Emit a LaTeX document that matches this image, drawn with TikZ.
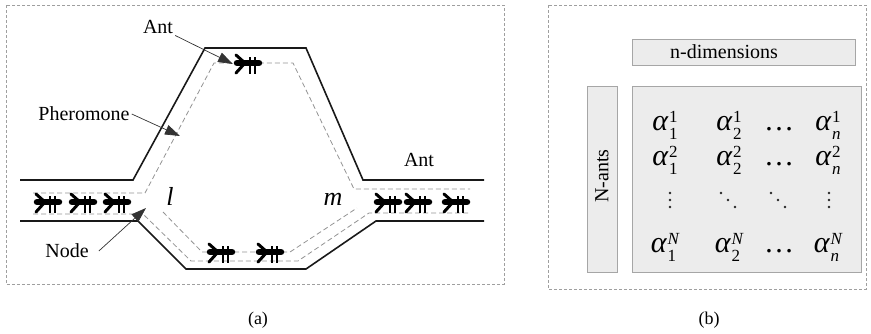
\documentclass[tikz,border=0pt]{standalone}
\usepackage{fontspec}
\setmainfont{Liberation Serif}
\usetikzlibrary{arrows.meta}
% size of the indices in the ant matrix
\newcommand\entscr{\fontsize{17}{19}\selectfont\upshape}
% entry of the ant matrix: alpha with subscript #1 and superscript #2
\newcommand\alphent[2]{α\kern1pt\raisebox{-9pt}{\rlap{\entscr #1}}\raisebox{8pt}{\entscr #2}}
\begin{document}
\begin{tikzpicture}[x=1pt,y=-1pt,
  frame/.style={draw=gray!75, dash pattern=on 3pt off 2pt, line width=0.8pt},
  wall/.style={draw=black!90, line width=1.6pt, line join=miter},
  trail/.style={draw=gray!85, dash pattern=on 5pt off 3pt, line width=0.8pt},
  lbl/.style={font=\fontsize{20}{24}\selectfont, inner sep=2pt},
  leader/.style={draw=black!80, line width=0.7pt, -{Triangle[length=15pt,width=10pt]}},
  greybox/.style={draw=gray!70, fill=gray!15, line width=1pt, inner sep=0pt},
  entry/.style={inner sep=0pt, font=\fontsize{30}{34}\selectfont\itshape, anchor=base},
  dotmark/.style={fill=black!85},
  ant/.pic={
    \draw[line width=6.5pt, line cap=round] (-11,0) -- (11,0);
    \draw[line width=3pt, line cap=round, line join=round] (-12,-8) -- (-3,0) -- (-12,10);
    \draw[line width=2.8pt] (2,-6) -- (2,11) (7,-6) -- (7,11);
  },
]
\useasboundingbox (0,0) rectangle (871,333);

% ---------- (a) the two routes between nodes l and m ----------
\draw[frame] (6,5) rectangle (504,284);

% channel walls
\draw[wall] (20,180) -- (133,180) -- (205,48) -- (306,48) -- (363,180) -- (484,180);
\draw[wall] (20,221) -- (138,221) -- (186,269) -- (306,269) -- (376,221) -- (484,221);

% pheromone trails
\draw[trail] (33,193) -- (145,193) -- (214,63) -- (293,63) -- (354,189) -- (470,189);
\draw[trail] (33,214) -- (143,214) -- (191,261) -- (298,261) -- (369,213) -- (470,213);
\draw[trail] (163,212) -- (202,252) -- (290,252) -- (357,208);

% ants
\foreach \p in {(48,202),(83,202),(117,202),(248,63),(221,252),(270,252),(388,202),(418,202),(456,202)}
  \pic at \p {ant};

% labels
\node[lbl] (antTop) at (158,27) {Ant};
\node[lbl] (antRight) at (419,160) {Ant};
\node[lbl] (pher) at (84,114) {Pheromone};
\node[lbl] (nodeL) at (67,251) {Node};
\node[font=\fontsize{26}{30}\selectfont\itshape, inner sep=0pt, anchor=base] (lnode) at (170,205) {l};
\node[font=\fontsize{26}{30}\selectfont\itshape, inner sep=0pt, anchor=base] (mnode) at (333,205) {m};

\coordinate (antTip) at (233,64);
\coordinate (pherTip) at (180,136);
\coordinate (nodeTip) at (146,208);
\draw[leader] (antTop) -- (antTip);
\draw[leader] (pher.east) -- (pherTip);
\draw[leader] ([xshift=8pt]nodeL.east) -- (nodeTip);

\node[font=\fontsize{18}{22}\selectfont] (capA) at (258,320) {(a)};

% ---------- (b) the solution matrix ----------
\draw[frame] (548,5) rectangle (866,289);

\node[greybox, minimum width=223pt, minimum height=26pt] (ndimBox) at (743.5,52) {};
\node[lbl] (ndim) at (724,52) {n-dimensions};
\node[greybox, minimum width=30pt, minimum height=186pt] (nantsBox) at (602,179) {};
\node[lbl, rotate=90] (nants) at (602,176) {N-ants};
\node[greybox, minimum width=229pt, minimum height=186pt] (matBox) at (746.5,179) {};

% matrix entries
\node[entry] (a11) at (665,130) {\alphent{1}{1}};
\node[entry] (a21) at (729,130) {\alphent{2}{1}};
\node[entry] (d1)  at (779,130) {\upshape\ldots};
\node[entry] (an1) at (828,130) {\alphent{\itshape n}{1}};

\node[entry] (a12) at (665,165) {\alphent{1}{2}};
\node[entry] (a22) at (729,165) {\alphent{2}{2}};
\node[entry] (d2)  at (779,165) {\upshape\ldots};
\node[entry] (an2) at (828,165) {\alphent{\itshape n}{2}};

% vertical and diagonal ellipses of the third row
\foreach \x/\dx in {670/0, 721/7, 771/7, 829/0}
  \foreach \k in {0,1,2}
    \fill[dotmark] ({\x+\k*\dx},{193+\k*7}) circle (1.3pt);

\node[entry] (a1N) at (665,252) {\alphent{1}{\itshape N}};
\node[entry] (a2N) at (729,252) {\alphent{2}{\itshape N}};
\node[entry] (dN)  at (779,252) {\upshape\ldots};
\node[entry] (anN) at (828,252) {\alphent{\itshape n}{\itshape N}};

\node[font=\fontsize{18}{22}\selectfont] (capB) at (709,320) {(b)};
\end{tikzpicture}
\end{document}
